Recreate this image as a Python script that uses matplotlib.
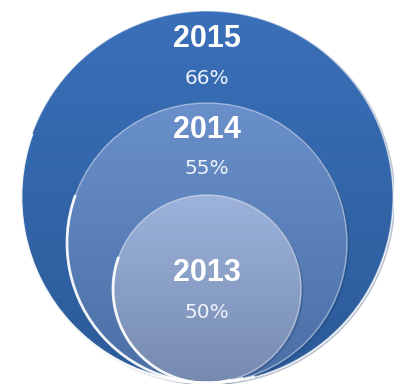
import numpy as np
import matplotlib
matplotlib.use('Agg')
import matplotlib.pyplot as plt
from matplotlib.patches import Circle, Arc
from matplotlib.colors import LinearSegmentedColormap

# 数据
years = ['2015', '2014', '2013']
shares = ['66%', '55%', '50%']

# 布局（像素坐标）
W, H = 394, 384
cx, base_y = 207, 383
radii = [186, 140, 94]
year_y = [39, 130, 273]
pct_y = [79, 169, 312]
grad_colors = [('#3a70b9', '#2b5a98'),
               ('#6a90cb', '#4a6ea5'),
               ('#9db3db', '#768ab0')]

fig = plt.figure(figsize=(W / 100, H / 100), dpi=100)
ax = fig.add_axes([0, 0, 1, 1])
ax.set_xlim(0, W)
ax.set_ylim(H, 0)
ax.axis('off')

grad = np.linspace(0, 1, 256).reshape(-1, 1)
for r, (c_top, c_bot) in zip(radii, grad_colors):
    cy = base_y - r
    # 细微阴影
    ax.add_patch(Circle((cx + 1.5, cy + 1.5), r, facecolor='none',
                        edgecolor='#1c3a66', lw=1.2, alpha=0.3, zorder=2))
    cmap = LinearSegmentedColormap.from_list('g', [c_top, c_bot])
    im = ax.imshow(grad, cmap=cmap, aspect='auto',
                   extent=[cx - r, cx + r, cy + r, cy - r], zorder=2)
    clip = Circle((cx, cy), r, transform=ax.transData)
    im.set_clip_path(clip)
    # 白色边缘：上方淡，左下方亮（y轴反向，角度按数据坐标）
    ax.add_patch(Circle((cx, cy), r, facecolor='none', edgecolor='white',
                        lw=1.0, alpha=0.45, zorder=3))
    ax.add_patch(Arc((cx, cy), 2 * r, 2 * r, theta1=75, theta2=200,
                     edgecolor='white', lw=2.0, alpha=0.9, zorder=3))

for y1, y2, yr, pc in zip(year_y, pct_y, years, shares):
    ax.text(cx, y1, yr, color='white', fontsize=22, fontweight='bold',
            ha='center', va='center', family='Liberation Sans', zorder=5)
    ax.text(cx, y2, pc, color='#eef2fa', fontsize=14.5,
            ha='center', va='center', family='DejaVu Sans', zorder=5)

fig.savefig('out.png', dpi=100)
